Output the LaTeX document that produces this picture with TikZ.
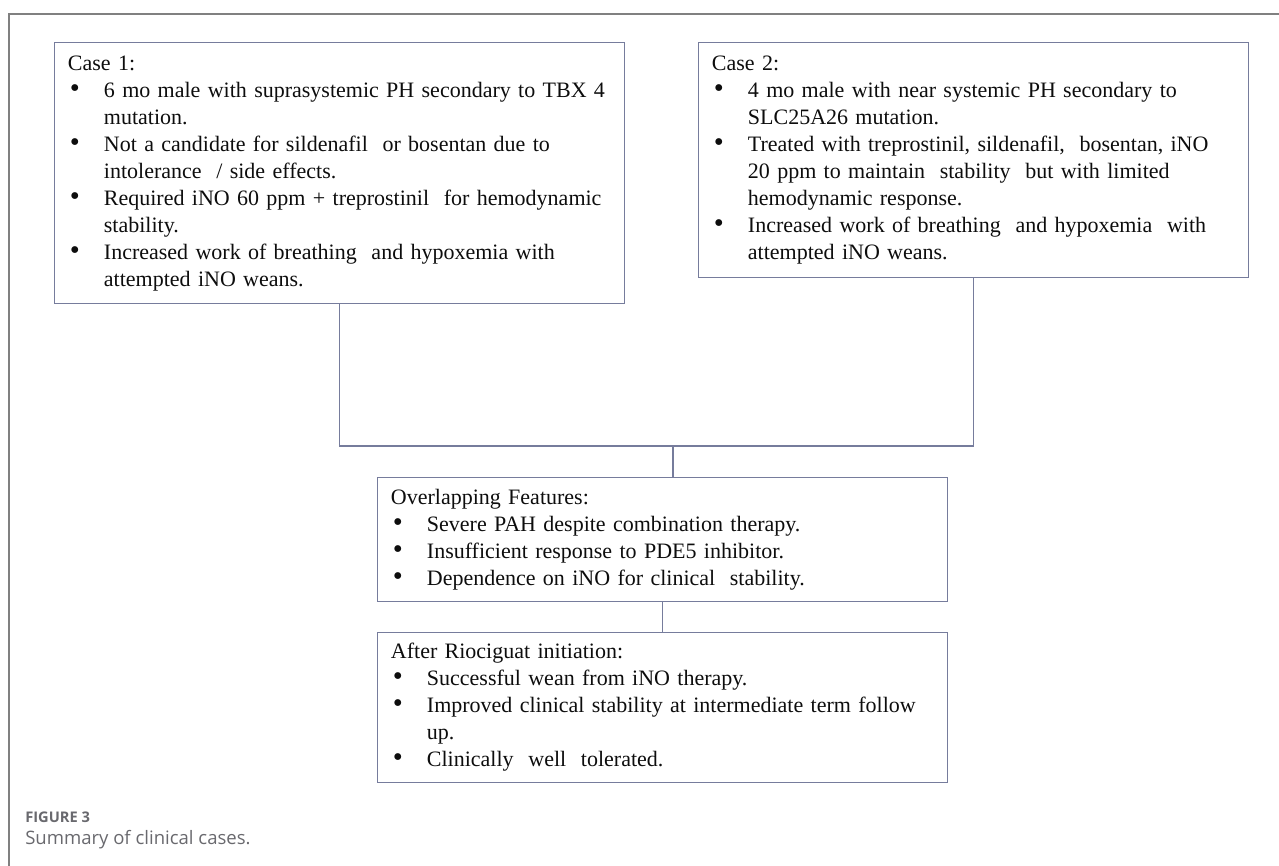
\documentclass[tikz,border=0pt]{standalone}
\usepackage{fontspec}
\setmainfont{Liberation Serif}
\newfontfamily\capfont{Open Sans}
\usetikzlibrary{positioning}

\definecolor{boxline}{RGB}{118,124,156}
\definecolor{framegray}{RGB}{128,128,128}
\definecolor{capgray}{RGB}{105,105,110}

\newcommand{\bul}{\hspace*{1.5pt}\makebox[25.5pt][l]{\scalebox{1.3}{\textbullet}}}
\newcommand{\ind}{\hspace*{27pt}}

\begin{document}
\begin{tikzpicture}[x=0.75pt, y=-0.75pt,
		casebox/.style={draw=boxline, line width=0.9pt, anchor=north west, align=left,
			inner xsep=10pt, inner ysep=0pt, text=black!95,
			font=\fontsize{16.5}{20.25}\selectfont},
		link/.style={draw=boxline, line width=0.9pt}]
		\useasboundingbox (0,0) rectangle (1279,866);

		% 1. Frame line round the figure (left and top only)
		\draw[framegray, line width=0.9pt] (9,866) -- (9,14) -- (1279,14);

		% 2. The two case boxes
		\node[casebox, text width=407.5pt, minimum height=195.75pt] (case1) at (54,42) {
			Case 1:\\
			\bul 6 mo male with suprasystemic PH secondary to TBX 4\\
			\ind mutation.\\
			\bul Not a candidate for sildenafil\ \ or bosentan due to\\
			\ind intolerance\ \ / side effects.\\
			\bul Required iNO 60 ppm + treprostinil\ \ for hemodynamic\\
			\ind stability.\\
			\bul Increased work of breathing\ \ and hypoxemia with\\
			\ind attempted iNO weans.};
		\node[casebox, text width=392.5pt, minimum height=176.25pt] (case2) at (698,42) {
			Case 2:\\
			\bul 4 mo male with near systemic PH secondary to\\
			\ind SLC25A26 mutation.\\
			\bul Treated with treprostinil, sildenafil,\ \ bosentan, iNO\\
			\ind 20 ppm to maintain\ \ stability\ \ but with limited\\
			\ind hemodynamic response.\\
			\bul Increased work of breathing\ \ and hypoxemia\ \ with\\
			\ind attempted iNO weans.};

		% 3. Overlapping features and outcome
		\node[casebox, text width=407.5pt, minimum height=93pt] (overlap) at (377,477) {
			Overlapping Features:\\
			\bul Severe PAH despite combination therapy.\\
			\bul Insufficient response to PDE5 inhibitor.\\
			\bul Dependence on iNO for clinical\ \ stability.};
		\node[casebox, text width=407.5pt, minimum height=112.5pt] (after) at (377,632) {
			After Riociguat initiation:\\
			\bul Successful wean from iNO therapy.\\
			\bul \mbox{Improved clinical stability at intermediate term follow}\\
			\ind up.\\
			\bul Clinically\ \ well\ \ tolerated.};

		% 4. Connectors
		\coordinate (join) at (673,446);
		\draw[link] (case1.south) |- (join) -| (case2.south);
		\draw[link] (join) -- (join |- overlap.north);
		\draw[link] (overlap.south) -- (after.north);

		% 5. Caption
		\node[anchor=west, inner sep=0pt, text=capgray, font=\capfont\bfseries\fontsize{11}{13}\selectfont] (fignum) at (25,817) {FIGURE 3};
		\node[anchor=west, inner sep=0pt, text=capgray, font=\capfont\fontsize{13.9}{16}\selectfont] (figcap) at (25,840) {Summary of clinical cases.};
	\end{tikzpicture}
\end{document}
